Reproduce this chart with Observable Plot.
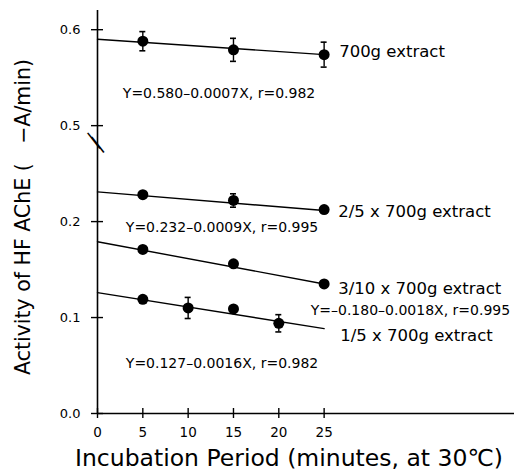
<!DOCTYPE html>
<html>
<head>
<meta charset="utf-8">
<script src="https://cdn.jsdelivr.net/npm/d3@7"></script>
<script src="https://cdn.jsdelivr.net/npm/@observablehq/plot@0.6"></script>
<style>
  html, body { margin: 0; padding: 0; background: #fff; }
  #chart svg { display: block; }
</style>
</head>
<body>
<div id="chart"></div>
<script>
// ---- data ----
const minutes3 = [5, 15, 25];
const minutes4 = [5, 10, 15, 20];
const act700 = [0.588, 0.579, 0.574];
const err700 = [0.010, 0.012, 0.013];
const act25 = [0.228, 0.222, 0.2125];
const err25 = [0, 0.007, 0];
const act310 = [0.171, 0.156, 0.135];
const err310 = [0, 0, 0];
const act15 = [0.119, 0.110, 0.109, 0.094];
const err15 = [0, 0.011, 0, 0.009];

const seriesNames = ["700g extract", "2/5 x 700g extract", "3/10 x 700g extract", "1/5 x 700g extract"];
const equations = [
  "Y=0.580\u20130.0007X, r=0.982",
  "Y=0.232\u20130.0009X, r=0.995",
  "Y=\u20130.180\u20130.0018X, r=0.995",
  "Y=0.127\u20130.0016X, r=0.982"
];
// fitted lines drawn from x=0 to x=25
const fitX = [0, 25];
const fitStart = [0.590, 0.231, 0.179, 0.126];
const fitEnd = [0.574, 0.2115, 0.135, 0.0885];

const xTicks = [0, 5, 10, 15, 20, 25];
const yTicks = [0.0, 0.1, 0.2, 0.5, 0.6];
const xLabel = "Incubation Period (minutes, at 30\u2103)";
const yLabel = "Activity of HF AChE (   \u2212A/min)";

// broken axis: values above the break are shifted down by the gap
const GAP = 0.2;
const brk = v => (v > 0.35 ? v - GAP : v);
const unbrk = p => (p > 0.25 ? p + GAP : p);
const breakPos = 0.283;

// ---- build tables ----
const groups = [
  {xs: minutes3, ys: act700, es: err700},
  {xs: minutes3, ys: act25, es: err25},
  {xs: minutes3, ys: act310, es: err310},
  {xs: minutes4, ys: act15, es: err15}
];
const points = [];
groups.forEach((g, s) => g.xs.forEach((x, i) => points.push({s, x, y: g.ys[i], e: g.es[i]})));
const errs = points.filter(d => d.e > 0);
const fits = [];
fitStart.forEach((v, s) => { fits.push({s, x: fitX[0], y: v}); fits.push({s, x: fitX[1], y: fitEnd[s]}); });

const first = s => points.find(d => d.s === s);
const last = s => points.filter(d => d.s === s).slice(-1)[0];

const font = "DejaVu Sans, sans-serif";
const capW = 0.33;

const plot = Plot.plot({
  width: 514,
  height: 470,
  marginLeft: 97,
  marginRight: 0,
  marginTop: 10,
  marginBottom: 57,
  style: {fontFamily: font, background: "#fff", color: "#000"},
  x: {domain: [0, 46], label: null},
  y: {domain: [0, 0.42], label: null},
  marks: [
    // axis lines
    Plot.ruleX([0], {y1: 0, y2: 0.42, stroke: "#000", strokeWidth: 1.6}),
    Plot.ruleY([0], {x1: 0, x2: 46, stroke: "#000", strokeWidth: 1.6}),
    // axes with ticks crossing the axis line
    Plot.axisY(yTicks.map(brk), {
      tickFormat: d => unbrk(d).toFixed(1), tickSize: 12, dx: 6, tickPadding: 11,
      fontSize: 13, strokeWidth: 1.4, label: null
    }),
    Plot.axisX(xTicks, {
      tickSize: 10, dy: -5, tickPadding: 9, fontSize: 13.5, strokeWidth: 1.4, label: null
    }),
    // axis break marks
    Plot.text([breakPos], {x: 0, y: d => d, text: () => "\u2014", rotate: 52, fontSize: 22, dx: -3, dy: -2}),
    Plot.text([breakPos], {x: 0, y: d => d, text: () => "\u2014", rotate: 52, fontSize: 22, dx: 1, dy: 2}),
    // fitted lines
    Plot.line(fits, {x: "x", y: d => brk(d.y), z: "s", stroke: "#000", strokeWidth: 1.4}),
    // error bars
    Plot.ruleX(errs, {x: "x", y1: d => brk(d.y - d.e), y2: d => brk(d.y + d.e), stroke: "#000", strokeWidth: 1.4}),
    Plot.ruleY(errs, {y: d => brk(d.y - d.e), x1: d => d.x - capW, x2: d => d.x + capW, stroke: "#000", strokeWidth: 1.6}),
    Plot.ruleY(errs, {y: d => brk(d.y + d.e), x1: d => d.x - capW, x2: d => d.x + capW, stroke: "#000", strokeWidth: 1.6}),
    // points
    Plot.dot(points, {x: "x", y: d => brk(d.y), r: 5.5, fill: "#000", stroke: "none"}),
    // series labels
    Plot.text([0], {x: fitX[1], y: () => brk(fitEnd[0]), text: () => seriesNames[0], textAnchor: "start", dx: 15, dy: -3, fontSize: 16.5}),
    Plot.text([1], {x: fitX[1], y: () => brk(fitEnd[1]), text: () => seriesNames[1], textAnchor: "start", dx: 14, dy: 1, fontSize: 16.5}),
    Plot.text([2], {x: fitX[1], y: () => brk(fitEnd[2]), text: () => seriesNames[2], textAnchor: "start", dx: 14, dy: 5, fontSize: 16.5}),
    Plot.text([3], {x: fitX[1], y: () => brk(fitEnd[3]), text: () => seriesNames[3], textAnchor: "start", dx: 16, dy: 7, fontSize: 16.5}),
    // equations
    Plot.text([0], {x: () => first(0).x, y: () => brk(first(0).y), text: () => equations[0], textAnchor: "start", dx: -20, dy: 52, fontSize: 14}),
    Plot.text([1], {x: () => first(1).x, y: () => brk(first(1).y), text: () => equations[1], textAnchor: "start", dx: -17, dy: 33, fontSize: 14}),
    Plot.text([2], {x: () => last(2).x, y: () => brk(last(2).y), text: () => equations[2], textAnchor: "end", dx: 186, dy: 27, fontSize: 14}),
    Plot.text([3], {x: () => first(3).x, y: () => brk(first(3).y), text: () => equations[3], textAnchor: "start", dx: -17, dy: 64, fontSize: 14}),
    // axis titles
    Plot.text([yLabel], {frameAnchor: "left", text: d => d, textAnchor: "middle", rotate: -90, dx: -74, dy: 5, fontSize: 20.5}),
    Plot.text([xLabel], {frameAnchor: "bottom", text: d => d, textAnchor: "middle", dx: -17, dy: 52, fontSize: 23.5})
  ]
});
document.getElementById("chart").appendChild(plot);
</script>
</body>
</html>
